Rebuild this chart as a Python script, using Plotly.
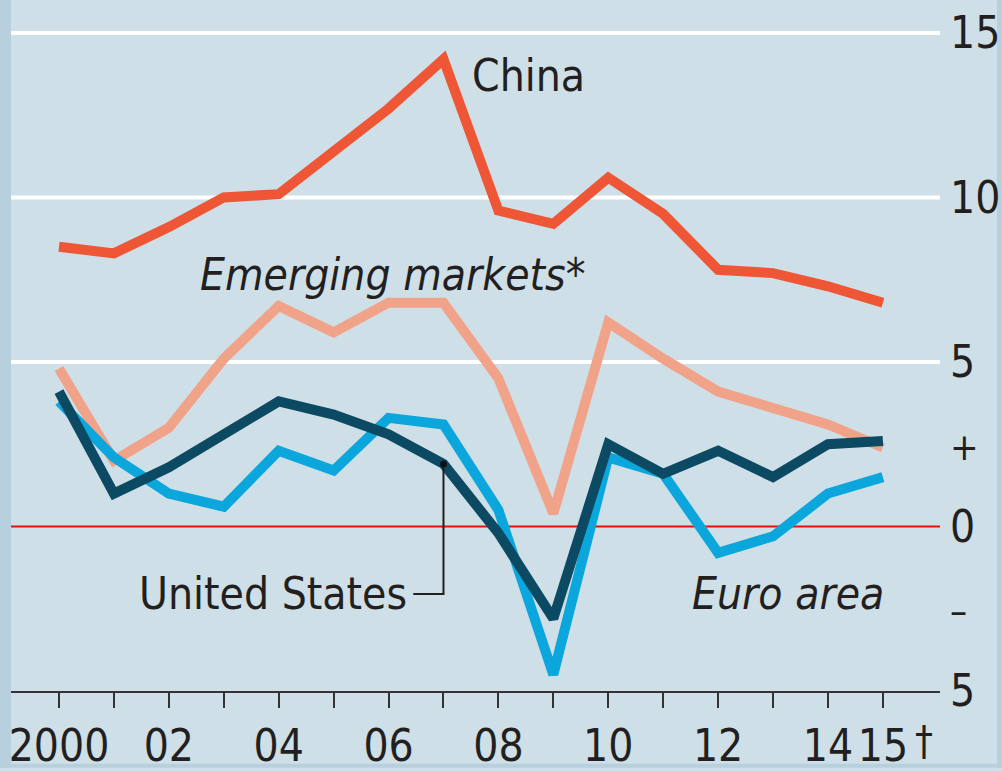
import plotly.graph_objects as go

years = list(range(2000, 2016))
china = [8.5, 8.3, 9.1, 10.0, 10.1, 11.4, 12.7, 14.2, 9.6, 9.2, 10.6, 9.5, 7.8, 7.7, 7.3, 6.8]
emerging = [4.8, 2.0, 3.0, 5.1, 6.7, 5.9, 6.8, 6.8, 4.5, 0.4, 6.2, 5.1, 4.1, 3.6, 3.1, 2.4]
united_states = [4.1, 1.0, 1.8, 2.8, 3.8, 3.4, 2.8, 1.9, -0.2, -2.8, 2.5, 1.6, 2.3, 1.5, 2.5, 2.6]
euro_area = [3.8, 2.1, 1.0, 0.6, 2.3, 1.7, 3.3, 3.1, 0.5, -4.5, 2.1, 1.6, -0.8, -0.3, 1.0, 1.5]

x_tick_text = ["2000", "", "02", "", "04", "", "06", "", "08", "", "10", "", "12", "", "14", "15"]
y_tick_vals = [15, 10, 5, 2.5, 0, -2.5, -5]
y_tick_text = ["15", "10", "5", "<span style='font-size:38px'>+</span>", "0",
               "<span style='font-size:38px'>–</span>", "5"]

BG = "#cedfe7"
STRIP = "#b8d0dd"
TXT = "#231f20"
FONT = "Liberation Sans Narrow, DejaVu Sans Condensed, sans-serif"

W, H = 1002, 771
ML, MR, MT, MB = 11, 62, 0, 77
PW, PH = W - ML - MR, H - MT - MB

fig = go.Figure()
fig.add_trace(go.Scatter(x=years, y=china, mode="lines", line=dict(color="#ee5636", width=10), hoverinfo="skip"))
fig.add_trace(go.Scatter(x=years, y=emerging, mode="lines", line=dict(color="#f1a38a", width=10), hoverinfo="skip"))
fig.add_trace(go.Scatter(x=years, y=euro_area, mode="lines", line=dict(color="#0aa6dc", width=10), hoverinfo="skip"))
fig.add_trace(go.Scatter(x=years, y=united_states, mode="lines", line=dict(color="#0c4a63", width=10), hoverinfo="skip"))

# leader for United States
i07 = years.index(2007)
lead_y = -2.05
fig.add_trace(go.Scatter(x=[years[i07], years[i07], years[i07] - 0.55], y=[united_states[i07], lead_y, lead_y],
                         mode="lines", line=dict(color=TXT, width=2), hoverinfo="skip"))
fig.add_trace(go.Scatter(x=[years[i07]], y=[united_states[i07]], mode="markers",
                         marker=dict(color="#111", size=7), hoverinfo="skip"))

shapes = []
# background strips
shapes.append(dict(type="rect", xref="paper", yref="paper", x0=-ML / PW, x1=0, y0=-MB / PH, y1=1,
                   fillcolor=STRIP, line=dict(width=0), layer="below"))
shapes.append(dict(type="rect", xref="paper", yref="paper", x0=(997 - ML) / PW, x1=(W - ML) / PW, y0=-MB / PH, y1=1,
                   fillcolor=STRIP, line=dict(width=0), layer="below"))
shapes.append(dict(type="rect", xref="paper", yref="paper", x0=-ML / PW, x1=(W - ML) / PW, y0=-MB / PH, y1=-(767 - PH) / PH,
                   fillcolor=STRIP, line=dict(width=0), layer="below"))
for gv in [15, 10, 5]:
    shapes.append(dict(type="line", xref="paper", yref="y", x0=0, x1=1, y0=gv, y1=gv,
                       line=dict(color="white", width=4), layer="below"))
shapes.append(dict(type="line", xref="paper", yref="y", x0=0, x1=1, y0=0, y1=0,
                   line=dict(color="#e3120b", width=2), layer="below"))

annotations = [
    dict(x=2007.48, y=13.7, text="China", xanchor="left", yanchor="middle", showarrow=False,
         font=dict(size=44, color=TXT, family=FONT)),
    dict(x=2002.53, y=7.65, text="<i>Emerging markets*</i>", xanchor="left", yanchor="middle", showarrow=False,
         font=dict(size=44, color=TXT, family=FONT)),
    dict(x=2006.38, y=-2.03, text="United States", xanchor="right", yanchor="middle", showarrow=False,
         font=dict(size=44, color=TXT, family=FONT)),
    dict(x=2015.05, y=-2.03, text="<i>Euro area</i>", xanchor="right", yanchor="middle", showarrow=False,
         font=dict(size=44, color=TXT, family=FONT)),
    dict(x=2015.74, y=-5, yshift=-50, text="†", xanchor="center", yanchor="middle", showarrow=False,
         font=dict(size=40, color=TXT, family=FONT)),
]

fig.update_layout(
    width=W, height=H,
    margin=dict(l=ML, r=MR, t=MT, b=MB, pad=0),
    paper_bgcolor=BG, plot_bgcolor=BG,
    showlegend=False,
    shapes=shapes, annotations=annotations,
    font=dict(family=FONT, color=TXT, size=44),
    xaxis=dict(range=[1999.126, 2016.04], tickmode="array", tickvals=years, ticktext=x_tick_text,
               showgrid=False, zeroline=False, showline=True, linecolor="#333", linewidth=2,
               ticks="outside", ticklen=15, tickwidth=2, tickcolor="#333",
               tickfont=dict(size=44, color=TXT, family=FONT)),
    yaxis=dict(range=[-5, 16.0], side="right", tickmode="array", tickvals=y_tick_vals, ticktext=y_tick_text,
               showgrid=False, zeroline=False, showline=False, ticks="", ticklabelstandoff=9,
               tickfont=dict(size=44, color=TXT, family=FONT)),
)

fig.write_html("out.html")
